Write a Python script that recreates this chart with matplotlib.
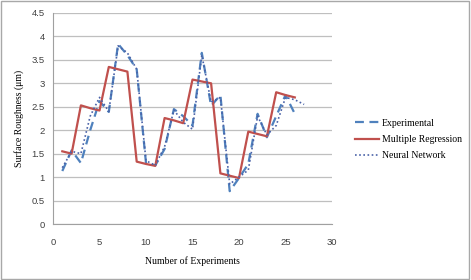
import matplotlib.pyplot as plt
from matplotlib.patches import Rectangle
import numpy as np

# experiment numbers
experiments = list(range(1, 27))
nn_experiments = list(range(1, 28))

experimental = [1.13, 1.57, 1.30, 2.00, 2.62, 2.39, 3.84, 3.60, 3.30, 1.30,
                1.25, 1.60, 2.45, 2.30, 2.10, 3.65, 2.52, 2.75, 0.70, 0.98,
                1.28, 2.35, 1.85, 2.30, 2.75, 2.35]
multiple_regression = [1.55, 1.50, 2.53, 2.47, 2.42, 3.35, 3.30, 3.25, 1.33, 1.28,
                       1.24, 2.26, 2.21, 2.15, 3.08, 3.04, 3.00, 1.08, 1.03, 0.98,
                       1.97, 1.92, 1.87, 2.81, 2.75, 2.70]
neural_network = [1.20, 1.55, 1.50, 2.30, 2.70, 2.40, 3.80, 3.65, 3.30, 1.35,
                  1.25, 1.65, 2.43, 2.17, 2.02, 3.60, 2.60, 2.70, 0.85, 1.00,
                  1.15, 2.30, 1.90, 2.10, 2.70, 2.65, 2.55]

serif = 'Liberation Serif'
tick_font = 'Liberation Sans'

fig = plt.figure(figsize=(4.71, 2.80), dpi=100)
ax = fig.add_axes([53 / 471, 1 - 224 / 280, (332 - 53) / 471, (224 - 13) / 280])

ax.plot(experiments, experimental, color='#4F81BD', linestyle=(0, (4, 2.5)),
        linewidth=1.6, label='Experimental')
ax.plot(experiments, multiple_regression, color='#C0504D', linewidth=1.6,
        label='Multiple Regression')
ax.plot(nn_experiments, neural_network, color='#4A62A8', linestyle=(0, (1, 1.5)),
        linewidth=1.2, label='Neural Network')

ax.set_xlim(0, 30)
ax.set_ylim(0, 4.5)
ax.set_xticks(np.arange(0, 31, 5))
ax.set_yticks(np.arange(0, 4.51, 0.5))
ax.set_yticklabels(['0', '0.5', '1', '1.5', '2', '2.5', '3', '3.5', '4', '4.5'])
ax.grid(axis='y', color='#BFBFBF', linewidth=0.9)
ax.set_axisbelow(True)
for side in ['top', 'right']:
    ax.spines[side].set_visible(False)
for side in ['left', 'bottom']:
    ax.spines[side].set_color('#A0A0A0')
ax.tick_params(axis='both', length=0, labelsize=6.8, colors='#404040', pad=6)
ax.tick_params(axis='x', pad=10)
for lbl in ax.get_xticklabels() + ax.get_yticklabels():
    lbl.set_fontfamily(tick_font)

ax.set_xlabel('Number of Experiments', fontsize=7, family=serif, labelpad=7)
ax.set_ylabel('Surface Roughness (\u03bcm)', fontsize=7, family=serif, labelpad=5)

leg = ax.legend(loc='center left', bbox_to_anchor=(1.05, 0.40), frameon=False,
                prop={'family': serif, 'size': 7}, handlelength=2.5,
                handletextpad=0.3, labelspacing=0.75)

fig.patches.append(Rectangle((0.003, 0.005), 0.992, 0.99, transform=fig.transFigure,
                             fill=False, edgecolor='#A8A8A8', linewidth=1.0))

fig.savefig('out.png', dpi=100)
